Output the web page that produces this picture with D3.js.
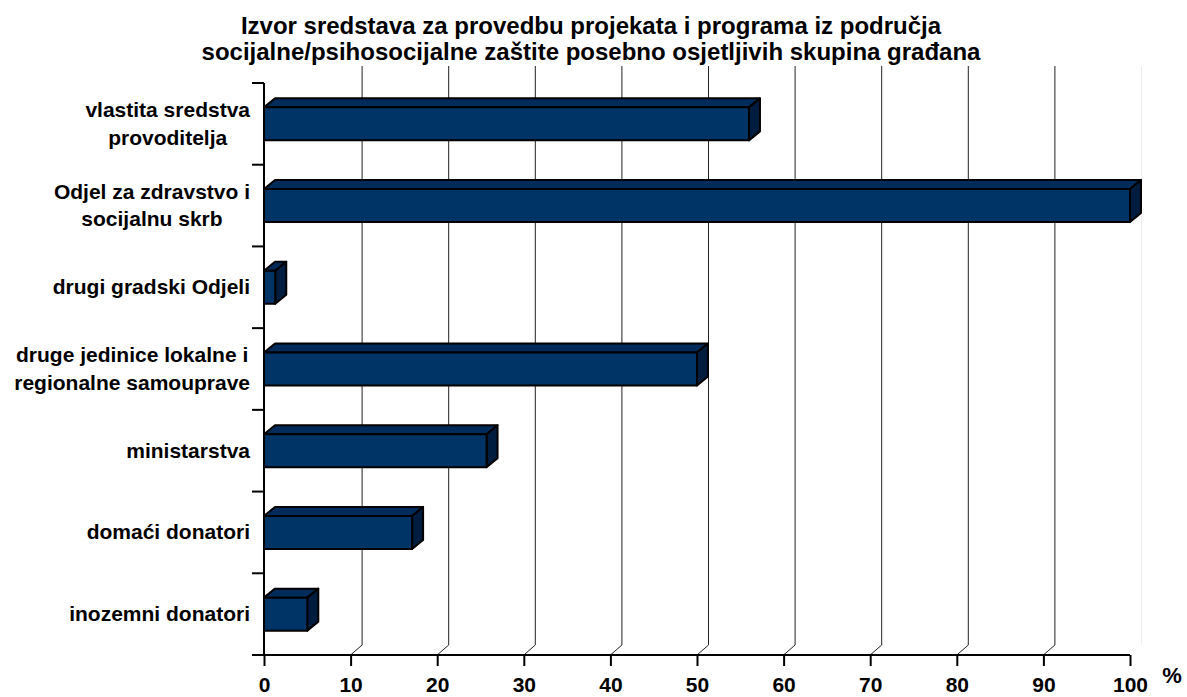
<!DOCTYPE html>
<html>
<head>
<meta charset="utf-8">
<script src="https://cdn.jsdelivr.net/npm/d3@7"></script>
<style>
  body { margin: 0; background: #fff; }
  text { font-family: "Liberation Sans", Arial, sans-serif; font-weight: bold; fill: #000; }
</style>
</head>
<body>
<div id="chart"></div>
<script>
// data
const titleLines = [
    "Izvor sredstava za provedbu projekata i programa iz područja",
    "socijalne/psihosocijalne zaštite posebno osjetljivih skupina građana"
];
const categories = ["vlastita", "odjel", "drugi", "jedinice", "ministarstva", "domaci", "inozemni"];
const labelLines = [
    ["vlastita sredstva", "provoditelja"],
    ["Odjel za zdravstvo i", "socijalnu skrb"],
    ["drugi gradski Odjeli"],
    ["druge jedinice lokalne i", "regionalne samouprave"],
    ["ministarstva"],
    ["domaći donatori"],
    ["inozemni donatori"]
];
const values = [56, 100, 1.3, 50, 25.7, 17.1, 5];
const xTicks = [0, 10, 20, 30, 40, 50, 60, 70, 80, 90, 100];

const width = 1187, height = 697;
const margin = {top: 83, right: 57, bottom: 42, left: 264};
const depthX = 11.5, depthY = 10;   // 3d offset of the back wall
const barDX = 11, barDY = 9;        // 3d offset of the bars
const barH = 33;

const svg = d3.select("#chart").append("svg")
    .attr("width", width)
    .attr("height", height);

const xScale = d3.scaleLinear().domain([0, 100]).range([margin.left, width - margin.right]);
const yScale = d3.scaleBand().domain(categories).range([margin.top, height - margin.bottom]).padding(0);
const y0 = height - margin.bottom;

// title
svg.append("g").selectAll("text")
    .data(titleLines)
    .enter().append("text")
    .attr("x", 591)
    .attr("y", (d, i) => 34 + i * 26)
    .attr("text-anchor", "middle")
    .style("font-size", "24px")
    .text(d => d);

// gridlines on the back wall
const grid = svg.append("g");
grid.selectAll("line.v")
    .data(xTicks.slice(1, -1))
    .enter().append("line")
    .attr("x1", d => xScale(d) + depthX).attr("x2", d => xScale(d) + depthX)
    .attr("y1", 66).attr("y2", y0 - depthY)
    .attr("stroke", "#222").attr("stroke-width", 1);
grid.selectAll("line.d")
    .data(xTicks.slice(1, -1))
    .enter().append("line")
    .attr("x1", d => xScale(d)).attr("x2", d => xScale(d) + depthX)
    .attr("y1", y0).attr("y2", y0 - depthY)
    .attr("stroke", "#222").attr("stroke-width", 1);
// faint right edge of the wall
grid.append("line")
    .attr("x1", xScale(100) + depthX).attr("x2", xScale(100) + depthX)
    .attr("y1", 66).attr("y2", y0 - depthY)
    .attr("stroke", "#eee");

// bars
const bars = svg.append("g").selectAll("g")
    .data(categories)
    .enter().append("g");

function faces(c, i) {
    const xa = xScale(0), xb = xScale(values[i]);
    const yt = yScale(c) + yScale.bandwidth() / 2 - barH / 2, yb = yt + barH;
    return {
        top: [[xa, yt], [xa + barDX, yt - barDY], [xb + barDX, yt - barDY], [xb, yt]],
        side: [[xb, yt], [xb + barDX, yt - barDY], [xb + barDX, yb - barDY], [xb, yb]],
        front: [[xa, yt], [xb, yt], [xb, yb], [xa, yb]]
    };
}
const poly = pts => "M" + pts.map(p => p.join(",")).join("L") + "Z";

bars.append("path")
    .attr("d", (c, i) => poly(faces(c, i).top))
    .attr("fill", "#002b5a").attr("stroke", "#000").attr("stroke-width", 2).attr("stroke-linejoin", "round");
bars.append("path")
    .attr("d", (c, i) => poly(faces(c, i).side))
    .attr("fill", "#001d3f").attr("stroke", "#000").attr("stroke-width", 2).attr("stroke-linejoin", "round");
bars.append("path")
    .attr("d", (c, i) => poly(faces(c, i).front))
    .attr("fill", "#003366").attr("stroke", "#000").attr("stroke-width", 2).attr("stroke-linejoin", "round");

// category axis
const yAxisG = svg.append("g");
yAxisG.append("line")
    .attr("x1", xScale(0)).attr("x2", xScale(0))
    .attr("y1", margin.top).attr("y2", y0)
    .attr("stroke", "#000").attr("stroke-width", 2);
yAxisG.selectAll("line.tick")
    .data(categories.map(c => yScale(c)).concat([y0]))
    .enter().append("line")
    .attr("x1", xScale(0) - 12).attr("x2", xScale(0))
    .attr("y1", d => d).attr("y2", d => d)
    .attr("stroke", "#000").attr("stroke-width", 2);

const labels = yAxisG.selectAll("g.lab")
    .data(categories)
    .enter().append("g");
labels.each(function (c, i) {
    const g = d3.select(this);
    const lines = labelLines[i];
    const cy = yScale(c) + yScale.bandwidth() / 2;
    const t = g.selectAll("text")
        .data(lines)
        .enter().append("text")
        .attr("y", (d, k) => cy + 7 + (k - (lines.length - 1) / 2) * 27.6)
        .attr("text-anchor", "middle")
        .style("font-size", "21px")
        .text(d => d);
    // multi-line labels are centred, block right edge sits at 250
    let w = 0;
    t.each(function () { w = Math.max(w, this.getComputedTextLength()); });
    t.attr("x", 250 - w / 2);
});

// value axis
const xAxis = d3.axisBottom(xScale).tickValues(xTicks).tickSize(11).tickPadding(6).tickFormat(d3.format("d"));
const xAxisG = svg.append("g")
    .attr("transform", `translate(0, ${y0})`)
    .call(xAxis);
xAxisG.select(".domain").attr("stroke-width", 2).attr("d", `M${xScale(0) - 12},0H${xScale(100)}`);
xAxisG.selectAll(".tick line").attr("stroke-width", 2);
xAxisG.selectAll(".tick text")
    .attr("font-family", null)
    .style("font-size", "21px")
    .attr("dy", null)
    .attr("y", 37);

svg.append("text")
    .attr("x", 1172).attr("y", 683)
    .attr("text-anchor", "middle")
    .style("font-size", "22px")
    .text("%");
</script>
</body>
</html>
